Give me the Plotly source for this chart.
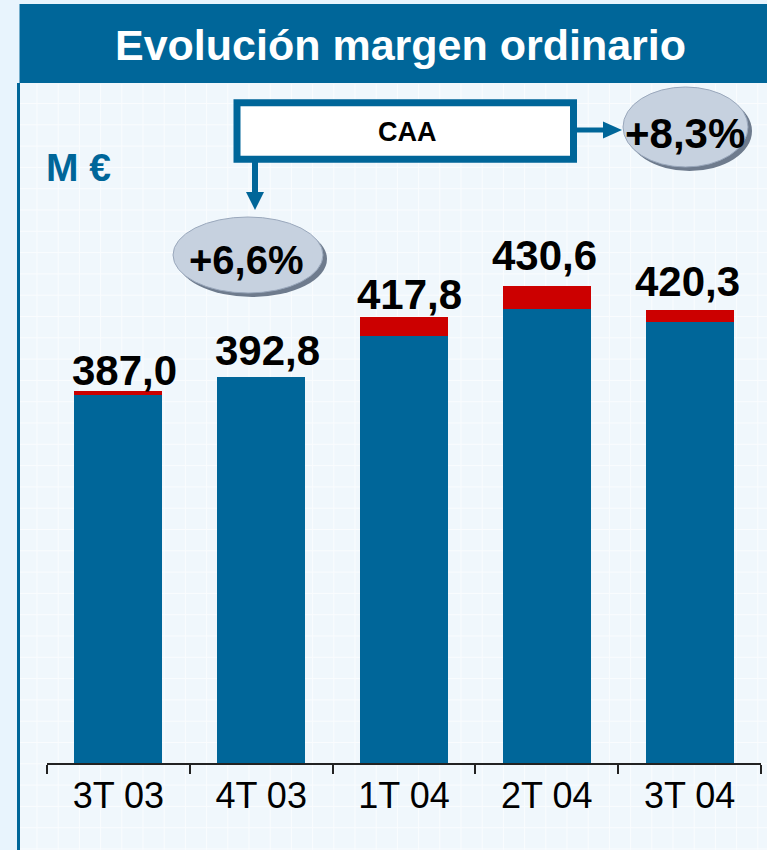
import plotly.graph_objects as go

# ---- data ----
categories = ["3T 03", "4T 03", "1T 04", "2T 04", "3T 04"]
totals = [387.0, 392.8, 417.8, 430.6, 420.3]
caa_part = [1.8, 0.0, 7.9, 9.8, 4.7]          # red top segment
base_part = [t - c for t, c in zip(totals, caa_part)]
total_labels = ["387,0", "392,8", "417,8", "430,6", "420,3"]
growth_caa = "+8,3%"
growth_other = "+6,6%"

# ---- styling ----
W, H = 767, 850
BLUE = "#006699"
RED = "#CC0000"
FONT = "Liberation Sans, Arial, sans-serif"
label_xshift = [6, 6, 5, -2, -2]
label_yshift = [-5, 1, -3, 5, 3]


def px(x):
    return x / W


def py(y):
    return 1 - y / H


fig = go.Figure()
fig.add_trace(go.Bar(x=categories, y=base_part, marker=dict(color=BLUE, line=dict(width=0)),
                     width=0.616, hoverinfo="skip"))
fig.add_trace(go.Bar(x=categories, y=caa_part, marker=dict(color=RED, line=dict(width=0)),
                     width=0.616, hoverinfo="skip"))

shapes = []
# outer background strip & panel
shapes.append(dict(type="rect", xref="paper", yref="paper", x0=0, x1=1, y0=0, y1=1,
                   fillcolor="#E8F4FD", line=dict(width=0), layer="below"))
shapes.append(dict(type="rect", xref="paper", yref="paper", x0=px(18.5), x1=1, y0=0, y1=py(83),
                   fillcolor="#F0F7FC", line=dict(width=0), layer="below"))
# faint grid pattern
xg = 37.0
while xg < W:
    shapes.append(dict(type="line", xref="paper", yref="paper", x0=px(xg), x1=px(xg), y0=0, y1=py(84),
                       line=dict(color="#FAFCFE", width=1), layer="below"))
    xg += 21.2
yg = 401.7 - 15 * 21.3
while yg < H:
    if yg > 84:
        shapes.append(dict(type="line", xref="paper", yref="paper", x0=px(20), x1=1, y0=py(yg), y1=py(yg),
                           line=dict(color="#FAFCFE", width=1), layer="below"))
    yg += 21.3
# left border line
shapes.append(dict(type="line", xref="paper", yref="paper", x0=px(18.5), x1=px(18.5), y0=0, y1=py(83),
                   line=dict(color=BLUE, width=3), layer="below"))
# title bar
shapes.append(dict(type="rect", xref="paper", yref="paper", x0=px(19.5), x1=1, y0=py(83), y1=py(4),
                   fillcolor=BLUE, line=dict(width=0), layer="below"))

# CAA box
shapes.append(dict(type="rect", xref="paper", yref="paper", x0=px(237), x1=px(573.5), y0=py(159.2), y1=py(102.8),
                   fillcolor="#FFFFFF", line=dict(color=BLUE, width=7), layer="above"))
# right arrow
shapes.append(dict(type="line", xref="paper", yref="paper", x0=px(577), x1=px(606), y0=py(130), y1=py(130),
                   line=dict(color=BLUE, width=5), layer="above"))
shapes.append(dict(type="path", xref="paper", yref="paper",
                   path=f"M {px(603)} {py(121.5)} L {px(622)} {py(130)} L {px(603)} {py(138.5)} Z",
                   fillcolor=BLUE, line=dict(width=0), layer="above"))
# down arrow
shapes.append(dict(type="line", xref="paper", yref="paper", x0=px(255), x1=px(255), y0=py(162), y1=py(195),
                   line=dict(color=BLUE, width=6), layer="above"))
shapes.append(dict(type="path", xref="paper", yref="paper",
                   path=f"M {px(246)} {py(192)} L {px(255)} {py(210)} L {px(264)} {py(192)} Z",
                   fillcolor=BLUE, line=dict(width=0), layer="above"))

# ellipses (shadow + body)
for (x0, y0, x1, y1) in [(623, 87, 748, 167), (173, 217, 323, 293)]:
    shapes.append(dict(type="circle", xref="paper", yref="paper", x0=px(x0 + 4), x1=px(x1 + 4),
                       y0=py(y1 + 4), y1=py(y0 + 4), fillcolor="#6E7B8D", line=dict(width=0), layer="above"))
    shapes.append(dict(type="circle", xref="paper", yref="paper", x0=px(x0), x1=px(x1),
                       y0=py(y1), y1=py(y0), fillcolor="#C6D1DF", line=dict(color="#9AA8BC", width=1),
                       layer="above"))

annotations = []
annotations.append(dict(text="<b>Evolución margen ordinario</b>", xref="paper", yref="paper",
                        x=px(400), y=py(45), xanchor="center", yanchor="middle", showarrow=False,
                        font=dict(family=FONT, size=43, color="#FFFFFF")))
annotations.append(dict(text="<b>M €</b>", xref="paper", yref="paper", x=px(78), y=py(167),
                        xanchor="center", yanchor="middle", showarrow=False,
                        font=dict(family=FONT, size=39, color=BLUE)))
annotations.append(dict(text="<b>CAA</b>", xref="paper", yref="paper", x=px(407), y=py(132),
                        xanchor="center", yanchor="middle", showarrow=False,
                        font=dict(family=FONT, size=27, color="#000000")))
annotations.append(dict(text=f"<b>{growth_caa}</b>", xref="paper", yref="paper", x=px(685), y=py(133),
                        xanchor="center", yanchor="middle", showarrow=False,
                        font=dict(family=FONT, size=42, color="#000000")))
annotations.append(dict(text=f"<b>{growth_other}</b>", xref="paper", yref="paper", x=px(246), y=py(260),
                        xanchor="center", yanchor="middle", showarrow=False,
                        font=dict(family=FONT, size=40, color="#000000")))
for cat, tot, lab, xs, ys in zip(categories, totals, total_labels, label_xshift, label_yshift):
    annotations.append(dict(text=f"<b>{lab}</b>", x=cat, y=tot, xref="x", yref="y",
                            xanchor="center", yanchor="bottom", xshift=xs, yshift=ys, showarrow=False,
                            font=dict(family=FONT, size=42, color="#000000")))

fig.update_layout(
    width=W, height=H,
    margin=dict(l=0, r=0, t=0, b=0),
    paper_bgcolor="#E8F4FD",
    plot_bgcolor="rgba(0,0,0,0)",
    barmode="stack",
    bargap=0.0,
    showlegend=False,
    hovermode=False,
    shapes=shapes,
    annotations=annotations,
    xaxis=dict(domain=[px(47), px(761)], range=[-0.5, 4.5], showgrid=False, zeroline=False,
               showline=True, linecolor="#222222", linewidth=1.5,
               ticks="outside", tickson="boundaries", ticklen=9, tickwidth=1.5, tickcolor="#222222",
               tickfont=dict(family=FONT, size=36, color="#000000")),
    yaxis=dict(domain=[1 - 763.3 / H, 1 - 90 / H], range=[232.8, 511.6], visible=False,
               showgrid=False, zeroline=False),
)

fig.write_html("out.html", config={"displayModeBar": False},
               post_script="document.body.style.margin='0';document.body.style.overflow='hidden';")
